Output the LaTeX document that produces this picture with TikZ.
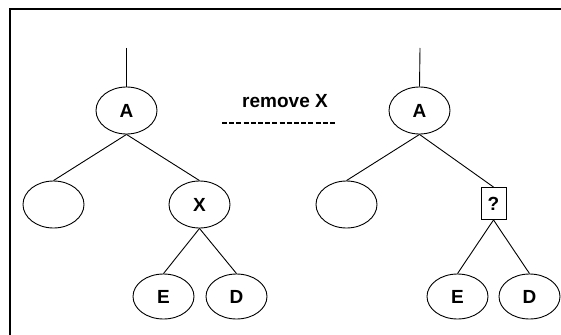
\documentclass[tikz,border=0pt]{standalone}
\usepackage{fontspec}
\setmainfont{Liberation Sans}
\usetikzlibrary{shapes.geometric}
\begin{document}
\begin{tikzpicture}[x=1pt,y=-1pt,
  nd/.style={draw,ellipse,line width=0.9pt,minimum width=61pt,minimum height=47pt,inner sep=0pt,font=\fontsize{19}{21}\selectfont\bfseries},
  qbox/.style={draw,rectangle,line width=0.9pt,minimum width=25pt,minimum height=32pt,inner sep=0pt,font=\fontsize{19}{21}\selectfont\bfseries},
  edge/.style={line width=0.9pt}]
\useasboundingbox (0,0) rectangle (561,334);
\draw[line width=2pt] (10,345) -- (10,9) -- (575,9);
% left tree
\coordinate (lt) at (126.5,48);
\node[nd] (lA) at (126.5,110.5) {A};
\node[nd] (lL) at (53.5,204.5) {};
\node[nd] (lX) at (199.5,204.5) {X};
\node[nd,minimum height=45pt] (lE) at (163.5,296.5) {E};
\node[nd,minimum height=45pt] (lD) at (236.5,296.5) {D};
\draw[edge] (lt) -- (lA.north);
\draw[edge] (lA.south) -- (lL.north);
\draw[edge] (lA.south) -- (lX.north);
\draw[edge] (lX.south) -- (lE.north);
\draw[edge] (lX.south) -- (lD.north);
% label
\node[font=\fontsize{19}{21}\selectfont\bfseries,anchor=base] (lab) at (285,107) {remove X};
\coordinate (d1) at (222,123);
\coordinate (d2) at (337,123);
\draw[line width=1.8pt,dash pattern=on 5pt off 2.2pt] (d1) -- (d2);
% right tree
\coordinate (rt) at (420,48);
\node[nd] (rA) at (419.5,110.5) {A};
\node[nd] (rL) at (346.5,204.5) {};
\node[qbox] (rQ) at (493.5,203.5) {?};
\node[nd,minimum height=45pt] (rE) at (457.5,296.5) {E};
\node[nd,minimum height=45pt] (rD) at (529.5,296.5) {D};
\draw[edge] (rt) -- (rA.north);
\draw[edge] (rA.south) -- (rL.north);
\draw[edge] (rA.south) -- (rQ.north);
\draw[edge] (rQ.south) -- (rE.north);
\draw[edge] (rQ.south) -- (rD.north);
\end{tikzpicture}
\end{document}
